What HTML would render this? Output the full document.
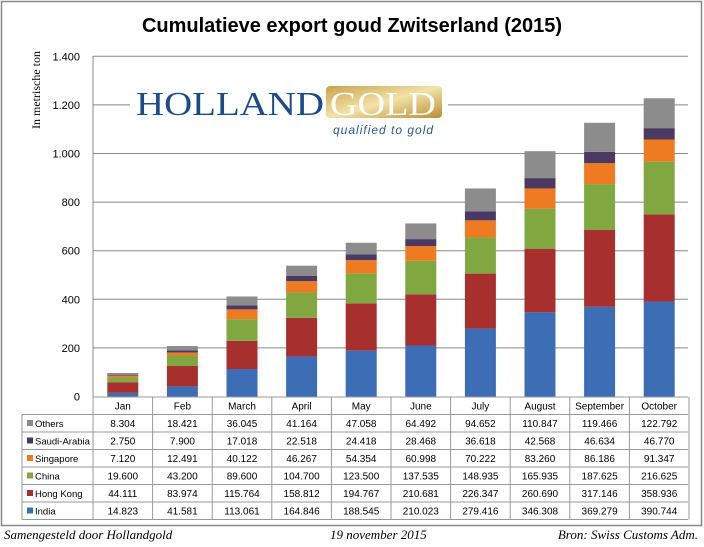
<!DOCTYPE html>
<html><head><meta charset="utf-8"><style>
body{margin:0;background:#fff;}
svg{display:block;font-family:"Liberation Sans",sans-serif;}
</style></head><body>
<svg id="s" width="704" height="547" xmlns="http://www.w3.org/2000/svg">
<defs>
<linearGradient id="gold" x1="0" y1="0" x2="1" y2="1"><stop offset="0" stop-color="#c9a24a"/><stop offset="0.5" stop-color="#f3e2a8"/><stop offset="1" stop-color="#b88d34"/></linearGradient>
</defs>
<rect x="1.5" y="1.5" width="700" height="524" fill="#fff" stroke="#888" stroke-width="1.5"/>
<text x="352" y="32" text-anchor="middle" font-size="20" font-weight="bold" fill="#000">Cumulatieve export goud Zwitserland (2015)</text>
<text transform="translate(40,90) rotate(-90)" text-anchor="middle" font-family="Liberation Serif,serif" font-size="12">In metrische ton</text>
<g id="g"></g>
<rect x="130" y="82" width="318" height="58" fill="#fff"/>
<rect x="326" y="86" width="116" height="32" rx="4" fill="url(#gold)"/>
<text x="136" y="115" font-family="Liberation Serif,serif" font-size="34" fill="#1c4b8c" textLength="188" lengthAdjust="spacingAndGlyphs">HOLLAND</text>
<text x="330" y="115" font-family="Liberation Serif,serif" font-size="34" fill="#fff" textLength="106" lengthAdjust="spacingAndGlyphs">GOLD</text>
<text x="333" y="134" font-family="Liberation Sans,sans-serif" font-style="italic" font-size="12" fill="#2a5a9a" letter-spacing="1">qualified to gold</text>
<text x="4" y="539" font-family="Liberation Serif,serif" font-style="italic" font-size="13">Samengesteld door Hollandgold</text>
<text x="330" y="539" font-family="Liberation Serif,serif" font-style="italic" font-size="13">19 november 2015</text>
<text x="698" y="539" text-anchor="end" font-family="Liberation Serif,serif" font-style="italic" font-size="13">Bron: Swiss Customs Adm.</text>
</svg>
<script>
var months=["Jan","Feb","March","April","May","June","July","August","September","October"];
var rows=[
["Others","#8c8c8c",[8.304,18.421,36.045,41.164,47.058,64.492,94.652,110.847,119.466,122.792]],
["Saudi-Arabia","#4a3a62",[2.750,7.900,17.018,22.518,24.418,28.468,36.618,42.568,46.634,46.770]],
["Singapore","#ee7a22",[7.120,12.491,40.122,46.267,54.354,60.998,70.222,83.260,86.186,91.347]],
["China","#80a740",[19.600,43.200,89.600,104.700,123.500,137.535,148.935,165.935,187.625,216.625]],
["Hong Kong","#a7302e",[44.111,83.974,115.764,158.812,194.767,210.681,226.347,260.690,317.146,358.936]],
["India","#3d6db5",[14.823,41.581,113.061,164.846,188.545,210.023,279.416,346.308,369.279,390.744]]];
function fmt(v){var s=v.toFixed(3).split(".");return s[0]+"."+s[1];}
var h="";var y0=396.5,k=48.6/200,x0=93,cw=59.6;
for(var i=0;i<=7;i++){var y=y0-i*200*k;
 if(i>0)h+='<line x1="93" x2="688" y1="'+y+'" y2="'+y+'" stroke="#888" stroke-width="1"/>';
 var l=i==0?"0":(i*200>=1000?"1."+String(i*200-1000).padStart(3,"0"):String(i*200));
 h+='<text x="80" y="'+(y+4)+'" text-anchor="end" font-size="11">'+l+'</text>';}
h+='<line x1="93" x2="93" y1="56" y2="397" stroke="#888"/>';
for(var m=0;m<10;m++){var cx=x0+cw*m+cw/2,acc=0;
 for(var r=5;r>=0;r--){var v=rows[r][2][m];var yt=y0-(acc+v)*k,yb=y0-acc*k;acc+=v;
  h+='<rect x="'+(cx-15.5)+'" y="'+yt+'" width="31" height="'+(yb-yt)+'" fill="'+rows[r][1]+'"/>';}}
var ty=[397,414.5,432,449.5,467,484.5,502,519.5];
h+='<g stroke="#999" stroke-width="1" fill="none">';
h+='<line x1="93" x2="688" y1="397" y2="397"/>';
for(var j=1;j<8;j++)h+='<line x1="22" x2="688" y1="'+ty[j]+'" y2="'+ty[j]+'"/>';
h+='<line x1="22" x2="22" y1="414.5" y2="519.5"/>';
for(var m=0;m<=10;m++){var x=x0+cw*m;h+='<line x1="'+x+'" x2="'+x+'" y1="397" y2="519.5"/>';}
h+='</g>';
for(var m=0;m<10;m++){var cx=x0+cw*m+cw/2;
 h+='<text x="'+cx+'" y="409.5" text-anchor="middle" font-size="10">'+months[m]+'</text>';
 for(var r=0;r<6;r++)h+='<text x="'+cx+'" y="'+(ty[r+1]+12.5)+'" text-anchor="middle" font-size="10">'+fmt(rows[r][2][m])+'</text>';}
for(var r=0;r<6;r++){h+='<rect x="27" y="'+(ty[r+1]+5.5)+'" width="6" height="6" fill="'+rows[r][1]+'"/>';
 h+='<text x="35" y="'+(ty[r+1]+12.5)+'" font-size="9.5">'+rows[r][0]+'</text>';}
document.getElementById("g").innerHTML=h;
</script>
</body></html>
